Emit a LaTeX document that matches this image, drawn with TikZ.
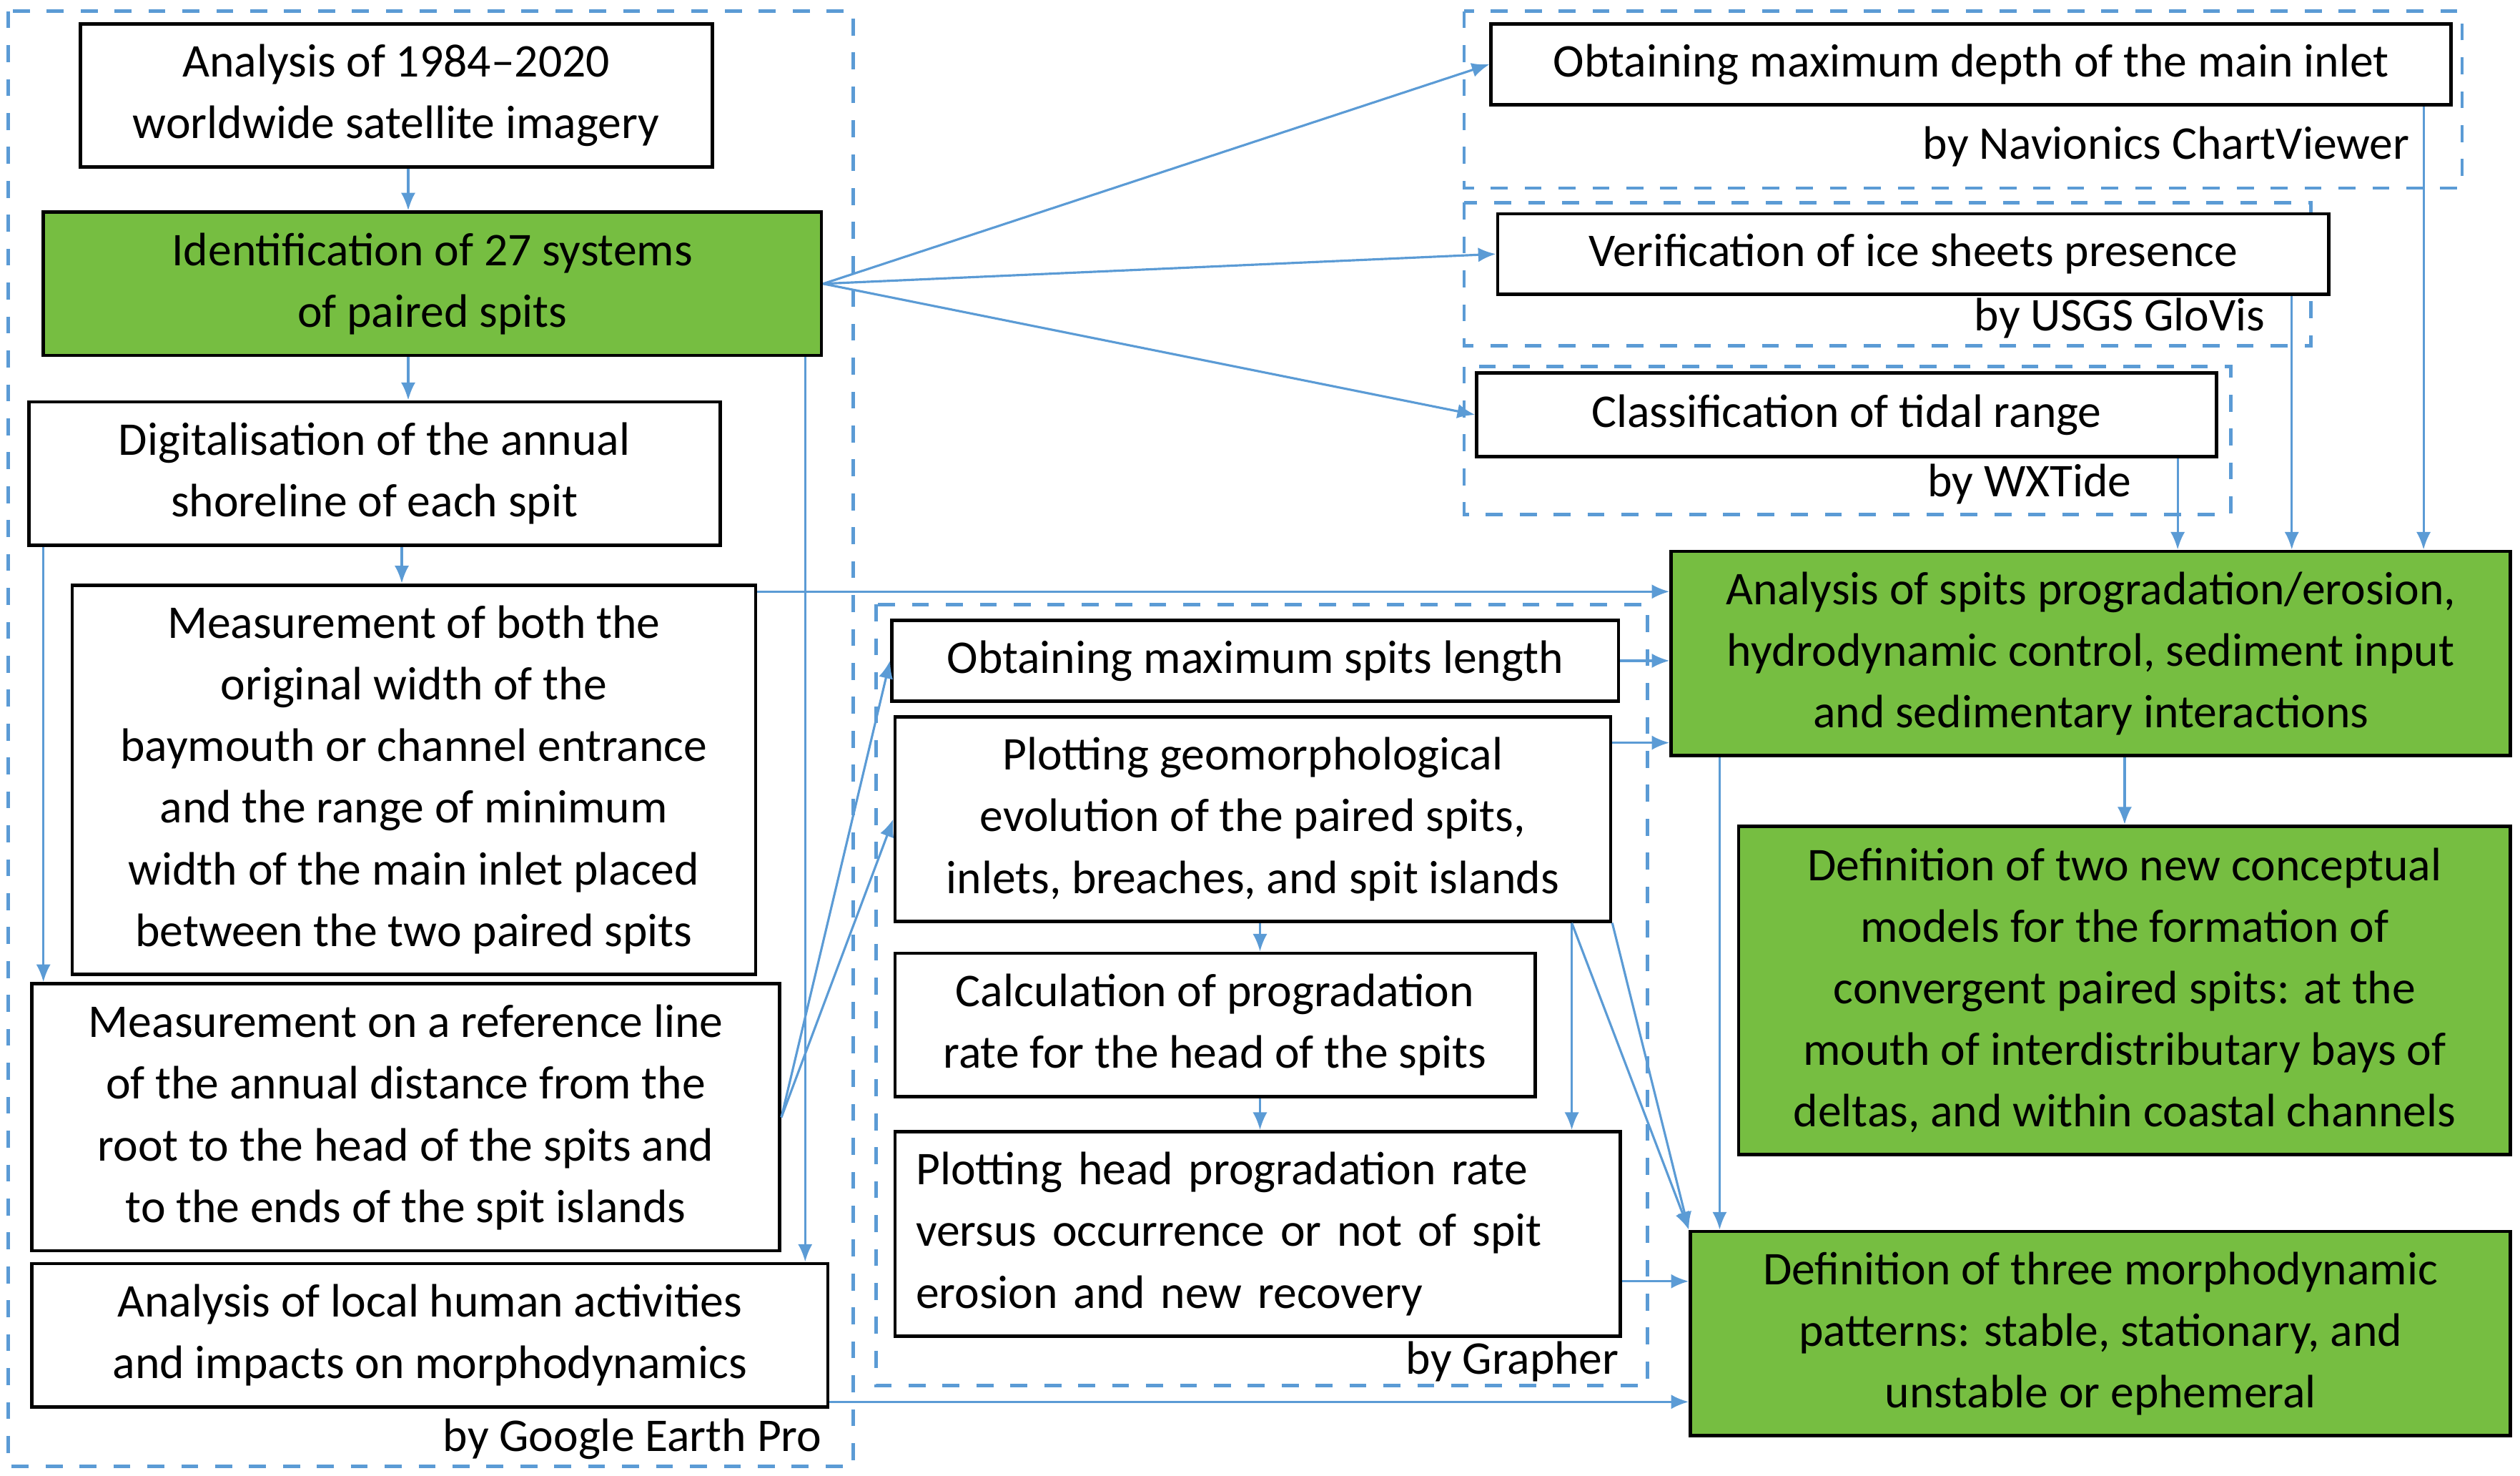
\documentclass[tikz,border=0pt]{standalone}
\usepackage{fontspec}
\setmainfont{Carlito}
\usetikzlibrary{arrows.meta,calc}
\definecolor{linkblue}{RGB}{91,155,213}
\definecolor{spitgreen}{RGB}{118,190,65}
\tikzset{
  box/.style={draw=black, line width=0.6pt, fill=white, align=center, inner sep=0pt,
    font=\fontsize{8.3}{10.9}\selectfont},
  gbox/.style={box, fill=spitgreen},
  frame/.style={draw=linkblue, dashed, line width=0.6pt},
  tag/.style={anchor=east, inner sep=0pt, font=\fontsize{8.3}{10}\selectfont},
  link/.style={draw=linkblue, line width=0.4pt, -{Latex[length=1.1mm,width=0.9mm]}}
}
\begin{document}
\begin{tikzpicture}[x=0.01cm, y=-0.01cm]
	\useasboundingbox (0,0) rectangle (1568,918);
	% dashed groups
	\draw [frame] (5,7) rectangle (531,912);
	\draw [frame] (911,7) rectangle (1532,117);
	\draw [frame] (911,126) rectangle (1438,215);
	\draw [frame] (911,228) rectangle (1388,320);
	\draw [frame] (545,376) rectangle (1025,862);
	\node [tag] (tgep) at (512,895) {by Google Earth Pro};
	\node [tag] (tnav) at (1500,91) {by Navionics ChartViewer};
	\node [tag] (tusgs) at (1410,198) {by USGS GloVis};
	\node [tag] (twx) at (1327,301) {by WXTide};
	\node [tag] (tgr) at (1008,847) {by Grapher};
	% left column
	\node [box, minimum width=3.93cm, minimum height=0.89cm] (imagery) at (246.5,59.5) {Analysis of 1984--2020\\worldwide satellite imagery};
	\node [gbox, minimum width=4.84cm, minimum height=0.89cm] (systems) at (269,176.5) {Identification of 27 systems\\of paired spits};
	\node [box, minimum width=4.30cm, minimum height=0.89cm] (shore) at (233,294.5) {Digitalisation of the annual\\shoreline of each spit};
	\node [box, minimum width=4.25cm, minimum height=2.42cm] (width) at (257.5,485) {Measurement of both the\\original width of the\\baymouth or channel entrance\\and the range of minimum\\width of the main inlet placed\\between the two paired spits};
	\node [box, minimum width=4.65cm, minimum height=1.66cm] (dist) at (252.5,695) {Measurement on a reference line\\of the annual distance from the\\root to the head of the spits and\\to the ends of the spit islands};
	\node [box, minimum width=4.95cm, minimum height=0.89cm] (human) at (267.5,830.5) {Analysis of local human activities\\and impacts on morphodynamics};
	% top right
	\node [box, minimum width=5.97cm, minimum height=0.50cm] (depth) at (1226.5,40) {Obtaining maximum depth of the main inlet};
	\node [box, minimum width=5.17cm, minimum height=0.50cm] (ice) at (1190.5,158) {Verification of ice sheets presence};
	\node [box, minimum width=4.60cm, minimum height=0.52cm] (tide) at (1149,258) {Classification of tidal range};
	% middle column
	\node [box, minimum width=4.52cm, minimum height=0.50cm] (length) at (781,411) {Obtaining maximum spits length};
	\node [box, minimum width=4.45cm, minimum height=1.27cm] (evol) at (779.5,509.5) {Plotting geomorphological\\evolution of the paired spits,\\inlets, breaches, and spit islands};
	\node [box, minimum width=3.98cm, minimum height=0.89cm] (rate) at (756,637.5) {Calculation of progradation\\rate for the head of the spits};
	\node [box, minimum width=4.51cm, minimum height=1.27cm, align=left, text width=4.25cm] (occur) at (782.5,767.5) {Plotting head progradation rate\\versus occurrence or not of spit\\erosion and new recovery};
	% green results
	\node [gbox, minimum width=5.22cm, minimum height=1.27cm] (analysis) at (1301,406.5) {Analysis of spits progradation/erosion,\\hydrodynamic control, sediment input\\and sedimentary interactions};
	\node [gbox, minimum width=4.80cm, minimum height=2.04cm] (models) at (1322,616) {Definition of two new conceptual\\models for the formation of\\convergent paired spits: at the\\mouth of interdistributary bays of\\deltas, and within coastal channels};
	\node [gbox, minimum width=5.10cm, minimum height=1.27cm] (patterns) at (1307,829.5) {Definition of three morphodynamic\\patterns: stable, stationary, and\\unstable or ephemeral};
	% connectors
	\draw [link] (imagery.south -| 254,0) -- (systems.north -| 254,0);
	\draw [link] (systems.south -| 254,0) -- (shore.north -| 254,0);
	\draw [link] (shore.south -| 250,0) -- (width.north -| 250,0);
	\draw [link] (shore.south -| 27,0) -- (dist.north -| 27,0);
	\draw [link] (systems.south -| 501,0) -- (human.north -| 501,0);
	\draw [link] (systems.east) -- (depth.west);
	\draw [link] (systems.east) -- (ice.west);
	\draw [link] (systems.east) -- (tide.west);
	\draw [link] (width.north east |- 0,368) -- (analysis.west |- 0,368);
	\draw [link] (dist.east) -- (length.west);
	\draw [link] (dist.east) -- (evol.west);
	\draw [link] (evol.south -| 784,0) -- (rate.north -| 784,0);
	\draw [link] (rate.south -| 784,0) -- (occur.north -| 784,0);
	\draw [link] (length.east) -- (analysis.west |- length.east);
	\draw [link] (evol.east |- 0,462) -- (analysis.west |- 0,462);
	\draw [link] (depth.south -| 1508,0) -- (analysis.north -| 1508,0);
	\draw [link] (ice.south -| 1426,0) -- (analysis.north -| 1426,0);
	\draw [link] (tide.south -| 1355,0) -- (analysis.north -| 1355,0);
	\draw [link] (analysis.south -| models.north) -- (models.north);
	\draw [link] (analysis.south -| 1070,0) -- (patterns.north -| 1070,0);
	\draw [link] (evol.south -| 978,0) -- (occur.north -| 978,0);
	\draw [link] (evol.south -| 978,0) -- (patterns.north west);
	\draw [link] (evol.south east) -- (patterns.north west);
	\draw [link] (occur.east |- 0,797) -- (patterns.west |- 0,797);
	\draw [link] (human.east |- 0,872) -- (patterns.west |- 0,872);
\end{tikzpicture}
\end{document}
